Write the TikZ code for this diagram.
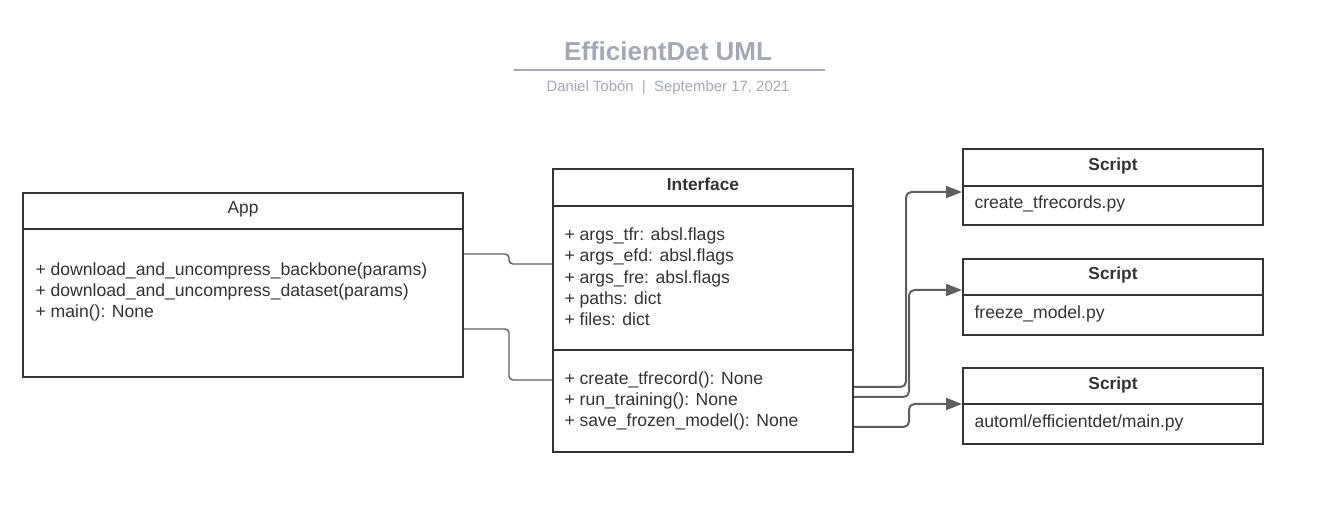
\documentclass[tikz,border=0pt]{standalone}
\usepackage{fontspec}
\setmainfont{Liberation Sans}
\usepackage{tikz}
\usetikzlibrary{calc,arrows.meta}
\definecolor{inkgray}{RGB}{51,51,51}
\definecolor{titlegray}{RGB}{163,168,180}
\definecolor{linkgray}{RGB}{95,95,95}
\tikzset{every picture/.style={line width=0.75pt}}
\tikzset{
  umlbox/.style={draw=inkgray, line width=1.5pt, inner sep=0pt, anchor=north west},
  divider/.style={draw=inkgray, line width=1.5pt},
  classname/.style={anchor=base, inner sep=0pt, text=inkgray, font=\fontsize{13}{16}\selectfont},
  members/.style={anchor=base west, inner sep=0pt, align=left, text=inkgray, font=\fontsize{13.2}{16.1}\selectfont},
  link/.style={draw=linkgray, line width=1.1pt, rounded corners=3pt},
  flow/.style={draw=linkgray, line width=1.5pt, rounded corners=4pt, -{Triangle[length=12pt,width=9pt]}}
}

\begin{document}
\begin{tikzpicture}[x=0.75pt,y=0.75pt,yscale=-1,xscale=1]
\useasboundingbox (0,0) rectangle (1343,523);

% Text Node
\node [anchor=base, inner sep=0pt, text=titlegray, font=\fontsize{19.5}{22}\selectfont\bfseries] (title) at (668,61) {EfficientDet UML};
%Straight Lines
\draw [draw=titlegray, line width=1.5pt] (514,70) -- (825,70);
% Text Node
\node [anchor=base, inner sep=0pt, text=titlegray, font=\fontsize{11.2}{13}\selectfont] (author) at (668,92) {Daniel Tobón \ | \ September 17, 2021};

%Shape: Rectangle
\node [umlbox, minimum width=330pt, minimum height=138pt] (app) at (22,192) {};
\draw [divider] ($(app.north west)+(0,37)$) -- ($(app.north east)+(0,37)$);
% Text Node
\node [classname] (apphead) at ($(app.north)+(0,22)$) {App};
% Text Node (anchored at the baseline of its last line)
\node [members] (appops) at ($(app.north west)+(13,126)$) {+ download\_and\_uncompress\_backbone(params)\\+ download\_and\_uncompress\_dataset(params)\\+ main(): None};

%Shape: Rectangle
\node [umlbox, minimum width=225pt, minimum height=212.25pt] (iface) at (552,168) {};
\draw [divider] ($(iface.north west)+(0,38)$) -- ($(iface.north east)+(0,38)$);
\draw [divider] ($(iface.north west)+(0,182)$) -- ($(iface.north east)+(0,182)$);
% Text Node
\node [classname, font=\fontsize{13}{16}\selectfont\bfseries] (ifacehead) at ($(iface.north)+(0,23)$) {Interface};
% Text Node
\node [members] (ifaceattrs) at ($(iface.north west)+(12,158)$) {+ args\_tfr: absl.flags\\+ args\_efd: absl.flags\\+ args\_fre: absl.flags\\+ paths: dict\\+ files: dict};
% Text Node
\node [members] (ifaceops) at ($(iface.north west)+(12,259)$) {+ create\_tfrecord(): None\\+ run\_training(): None\\+ save\_frozen\_model(): None};

%Shape: Rectangle
\node [umlbox, minimum width=225pt, minimum height=57pt] (script1) at (962,148) {};
\draw [divider] ($(script1.north west)+(0,38)$) -- ($(script1.north east)+(0,38)$);
\node [classname, font=\fontsize{13}{16}\selectfont\bfseries] (script1head) at ($(script1.north)+(0,23)$) {Script};
\node [members] (script1file) at ($(script1.north west)+(12,61)$) {create\_tfrecords.py};

%Shape: Rectangle
\node [umlbox, minimum width=225pt, minimum height=57pt] (script2) at (962,258) {};
\draw [divider] ($(script2.north west)+(0,37)$) -- ($(script2.north east)+(0,37)$);
\node [classname, font=\fontsize{13}{16}\selectfont\bfseries] (script2head) at ($(script2.north)+(0,22)$) {Script};
\node [members] (script2file) at ($(script2.north west)+(12,61)$) {freeze\_model.py};

%Shape: Rectangle
\node [umlbox, minimum width=225pt, minimum height=57pt] (script3) at (962,367) {};
\draw [divider] ($(script3.north west)+(0,37)$) -- ($(script3.north east)+(0,37)$);
\node [classname, font=\fontsize{13}{16}\selectfont\bfseries] (script3head) at ($(script3.north)+(0,23)$) {Script};
\node [members] (script3file) at ($(script3.north west)+(12,61)$) {automl/efficientdet/main.py};

%Straight Lines
\draw [link] ($(app.north east)+(0,62)$) -- ++(45,0) |- ($(iface.north west)+(0,96)$);
\draw [link] ($(app.north east)+(0,137)$) -- ++(45,0) |- ($(iface.north west)+(0,212)$);

%Straight Lines
\draw [flow] ($(iface.north east)+(0,219)$) -- ++(52,0) |- ($(script1.north west)+(0,44)$);
\draw [flow] ($(iface.north east)+(0,229)$) -- ++(55,0) |- ($(script2.north west)+(0,32)$);
\draw [flow] ($(iface.north east)+(0,259)$) -- ++(55,0) |- ($(script3.north west)+(0,37)$);

\end{tikzpicture}
\end{document}
